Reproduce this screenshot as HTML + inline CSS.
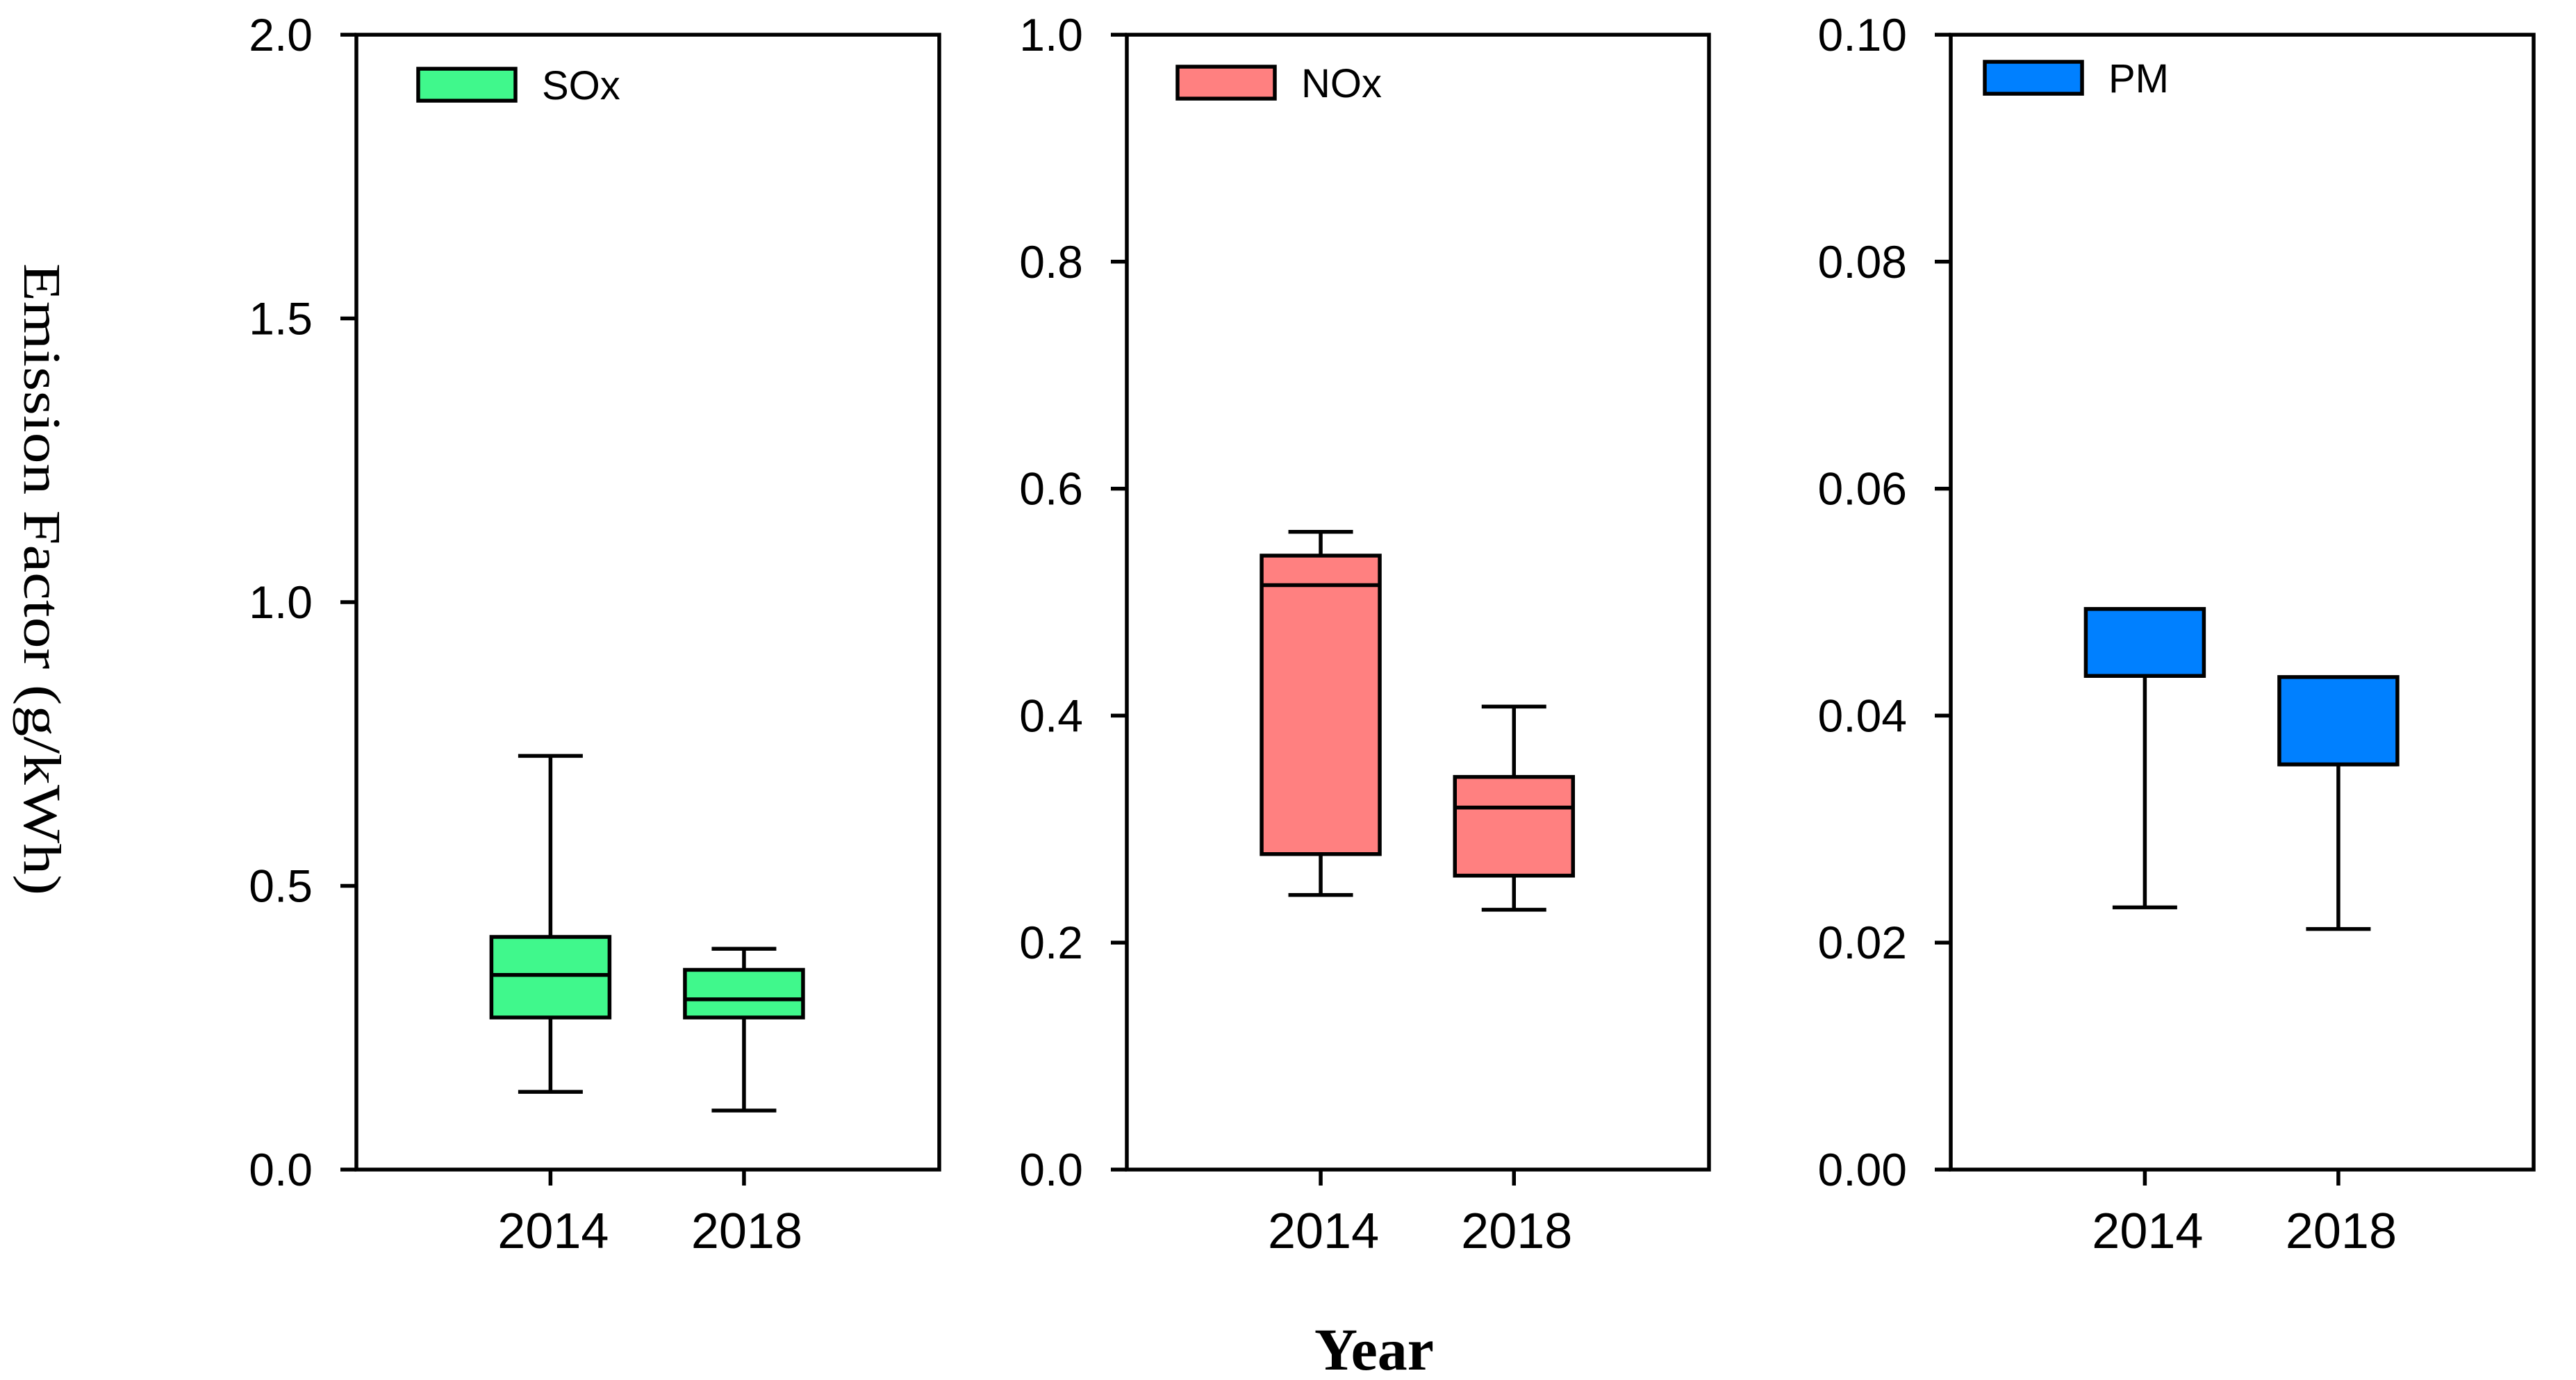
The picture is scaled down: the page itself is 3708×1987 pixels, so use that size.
<!DOCTYPE html>
<html><head><meta charset="utf-8"><style>
html,body{margin:0;padding:0;background:#fff;}
svg{display:block;}
text{font-family:"Liberation Sans",Arial,sans-serif;fill:#000;}
</style></head>
<body>
<svg id="chart" width="3708" height="1987" viewBox="0 0 3708 1987" xmlns="http://www.w3.org/2000/svg">
<rect x="0" y="0" width="3708" height="1987" fill="#fff"/>
<text transform="translate(60,834) rotate(90)" text-anchor="middle" dominant-baseline="central" style="font-family:'Liberation Serif',serif;font-size:76px;" textLength="910" lengthAdjust="spacingAndGlyphs">Emission Factor (g/kWh)</text>
<text x="1978" y="1972" text-anchor="middle" style="font-family:'Liberation Serif',serif;font-size:86px;font-weight:bold;">Year</text>
</svg>
<script>
const categories = ["2014","2018"];
const pollutants = ["SOx","NOx","PM"];
const yMax = [2.0, 1.0, 0.10];
const yTicks = [[0,0.5,1.0,1.5,2.0],[0,0.2,0.4,0.6,0.8,1.0],[0,0.02,0.04,0.06,0.08,0.10]];
const yTickLabels = [["0.0","0.5","1.0","1.5","2.0"],["0.0","0.2","0.4","0.6","0.8","1.0"],["0.00","0.02","0.04","0.06","0.08","0.10"]];
// [min, q1, median, q3, max]
const soxStats = [[0.137,0.268,0.343,0.410,0.729],[0.104,0.268,0.300,0.352,0.389]];
const noxStats = [[0.242,0.278,0.515,0.541,0.562],[0.229,0.259,0.319,0.346,0.408]];
const pmStats = [[0.0231,0.0435,0.0435,0.0494,0.0494],[0.0212,0.0357,0.0357,0.0434,0.0434]];
const allStats = [soxStats, noxStats, pmStats];
const colors = ["#40F88C","#FF8080","#0080FF"];

const NS="http://www.w3.org/2000/svg";
const svg=document.getElementById('chart');
const panels=[{l:513,r:1352},{l:1622,r:2460},{l:2808,r:3647}];
const top0=50, bot=1684;
const legendPos=[{x:602,y:99},{x:1695,y:96},{x:2857,y:89}];
function mk(tag,attrs,parent){const e=document.createElementNS(NS,tag);for(const k in attrs)e.setAttribute(k,attrs[k]);(parent||svg).appendChild(e);return e;}

panels.forEach((p,pi)=>{
  const g=mk('g',{});
  
  
  const yS=v=>bot-(v/yMax[pi])*(bot-top0);
  const xS=i=>p.l+(p.r-p.l)*(0.333+i*0.332);
  const fr=mk('rect',{x:p.l,y:top0,width:p.r-p.l,height:bot-top0,fill:'none',stroke:'#000','stroke-width':5.5},g);
  
  
  yTicks[pi].forEach((t,ti)=>{
    const y=yS(t);
    const tk=mk('line',{x1:p.l-23,x2:p.l,y1:y,y2:y,stroke:'#000','stroke-width':5.5},g);
    
    
    const tl=mk('text',{x:p.l-63,y:y+23,'text-anchor':'end','font-size':66},g);
    tl.textContent=yTickLabels[pi][ti];
    
    
  });
  categories.forEach((c,ci)=>{
    const x=xS(ci);
    const tk=mk('line',{x1:x,x2:x,y1:bot,y2:bot+23,stroke:'#000','stroke-width':5.5},g);
    
    
    const tl=mk('text',{x:x+4,y:1797,'text-anchor':'middle','font-size':72},g);
    tl.textContent=c;
    
    
  });
  allStats[pi].forEach((s,ci)=>{
    const x=xS(ci), bw=170, cw=93;
    const bg=mk('g',{},g);
    
    
    const ln=(x1,y1,x2,y2)=>mk('line',{x1,y1,x2,y2,stroke:'#000','stroke-width':5.5},bg);
    if(s[4]>s[3]){ln(x,yS(s[3]),x,yS(s[4]));ln(x-cw/2,yS(s[4]),x+cw/2,yS(s[4]));}
    if(s[0]<s[1]){ln(x,yS(s[1]),x,yS(s[0]));ln(x-cw/2,yS(s[0]),x+cw/2,yS(s[0]));}
    mk('rect',{x:x-bw/2,y:yS(s[3]),width:bw,height:yS(s[1])-yS(s[3]),fill:colors[pi],stroke:'#000','stroke-width':5.5},bg);
    ln(x-bw/2,yS(s[2]),x+bw/2,yS(s[2]));
  });
  const lp=legendPos[pi];
  const lg=mk('g',{},g);
  
  
  mk('rect',{x:lp.x,y:lp.y,width:140,height:46,fill:colors[pi],stroke:'#000','stroke-width':5.5},lg);
  const lt=mk('text',{x:lp.x+178,y:lp.y+44,'font-size':58},lg);
  lt.textContent=pollutants[pi];
});
</script>
</body></html>
